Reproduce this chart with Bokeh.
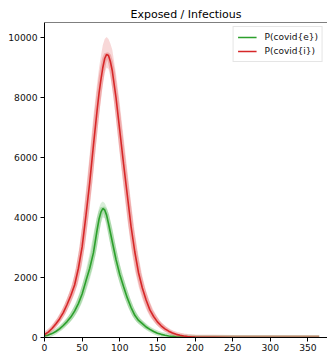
from bokeh.plotting import figure
from bokeh.models import Range1d, Span, Legend, LegendItem, FixedTicker, ColumnDataSource
from bokeh.embed import file_html
from bokeh.resources import INLINE

days = [0, 5, 10, 15, 20, 25, 30, 35, 40, 45, 50, 55, 60, 65, 70,
        72.5, 75, 77.5, 80, 82.5, 85, 87.5, 90,
        95, 100, 105, 110, 115, 120, 125, 130, 135, 140, 145, 150, 155, 160, 165, 170, 175,
        180, 185, 190, 195, 200, 250, 300, 365]

infectious = [100, 180, 300, 450, 620, 830, 1100, 1400, 1750, 2300, 3020, 4050, 5150, 6400, 7600,
              8150, 8600, 9000, 9300, 9440, 9400, 9200, 8900,
              8000, 6900, 5800, 4750, 3700, 2850, 2150, 1650, 1250, 920, 700, 520, 390, 290, 210,
              150, 105, 75, 50, 35, 22, 15, 0, 0, 0]
infectious_hi = [130, 230, 380, 560, 760, 1000, 1300, 1650, 2100, 2800, 3700, 4900, 6100, 7400, 8500,
                 9000, 9400, 9750, 9950, 10020, 9950, 9800, 9600,
                 8800, 7800, 6700, 5600, 4500, 3500, 2700, 2050, 1550, 1180, 900, 680, 510, 380, 280,
                 200, 145, 100, 70, 50, 32, 22, 1, 0, 0]
infectious_lo = [80, 140, 230, 350, 500, 680, 900, 1150, 1450, 1850, 2450, 3300, 4300, 5500, 6800,
                 7400, 7900, 8400, 8800, 9000, 8950, 8700, 8300,
                 7300, 6100, 5000, 3950, 3000, 2250, 1700, 1280, 950, 700, 530, 390, 290, 210, 150,
                 105, 75, 52, 35, 24, 15, 10, 0, 0, 0]

exposed = [50, 80, 130, 200, 290, 400, 530, 680, 880, 1130, 1450, 1880, 2300, 2820, 3600,
           3950, 4180, 4300, 4250, 4080, 3800, 3500, 3200,
           2600, 2100, 1700, 1320, 1000, 740, 570, 460, 350, 270, 200, 145, 105, 75, 52, 36, 25,
           17, 11, 7, 5, 3, 0, 0, 0]
exposed_hi = [65, 100, 165, 250, 360, 490, 650, 840, 1080, 1380, 1750, 2250, 2800, 3450, 4050,
              4330, 4480, 4530, 4480, 4350, 4150, 3900, 3650,
              3000, 2450, 2000, 1580, 1220, 920, 710, 560, 430, 330, 250, 185, 135, 98, 70, 48, 34,
              23, 15, 10, 7, 4, 0, 0, 0]
exposed_lo = [40, 62, 100, 155, 225, 315, 420, 540, 700, 900, 1170, 1530, 1920, 2380, 3050,
              3450, 3800, 4000, 3980, 3800, 3450, 3100, 2800,
              2250, 1780, 1420, 1090, 800, 590, 450, 360, 275, 210, 155, 110, 80, 56, 39, 27, 18,
              12, 8, 5, 3, 2, 0, 0, 0]

x_ticks = [0, 50, 100, 150, 200, 250, 300, 350]
y_ticks = [0, 2000, 4000, 6000, 8000, 10000]
labels = ["P(covid{e})", "P(covid{i})"]
title = "Exposed / Infectious"

GREEN = "#2ca02c"
RED = "#d62728"
FONT = "DejaVu Sans"

src = ColumnDataSource(dict(t=days, i=infectious, ihi=infectious_hi, ilo=infectious_lo,
                            e=exposed, ehi=exposed_hi, elo=exposed_lo))

p = figure(frame_width=283, frame_height=315, output_backend="svg", toolbar_location=None,
           x_range=Range1d(0, 376), y_range=Range1d(0, 10500),
           min_border_left=44, min_border_right=0, min_border_top=22, min_border_bottom=17,
           title=title)
p.title.align = "center"
p.title.text_font = FONT
p.title.text_font_size = "11px"
p.title.text_font_style = "normal"
p.title.text_color = "#000000"
p.title.standoff = 4

p.xgrid.visible = False
p.ygrid.visible = False
p.outline_line_color = None
p.background_fill_color = "white"
p.border_fill_color = "white"

for ax in (p.xaxis[0], p.yaxis[0]):
    ax.axis_line_color = "#000000"
    ax.axis_line_width = 1
    ax.major_tick_line_color = "#000000"
    ax.major_tick_out = 4
    ax.major_tick_in = 0
    ax.minor_tick_line_color = None
    ax.major_label_text_font = FONT
    ax.major_label_text_font_size = "9.2px"
    ax.major_label_text_color = "#111111"
p.xaxis.major_label_standoff = 2
p.yaxis.major_label_standoff = 3
p.xaxis.ticker = FixedTicker(ticks=x_ticks)
p.yaxis.ticker = FixedTicker(ticks=y_ticks)

top = Span(location=p.y_range.end, dimension="width", line_color="#000000", line_width=1)
p.add_layout(top)

# exposed
p.varea(x="t", y1="elo", y2="ehi", source=src, fill_color=GREEN, fill_alpha=0.18)
p.line(x="t", y="e", source=src, line_color=GREEN, line_width=5, line_alpha=0.25)
g_line = p.line(x="t", y="e", source=src, line_color=GREEN, line_width=1.6)
# infectious
p.varea(x="t", y1="ilo", y2="ihi", source=src, fill_color=RED, fill_alpha=0.18)
p.line(x="t", y="i", source=src, line_color=RED, line_width=5, line_alpha=0.25)
r_line = p.line(x="t", y="i", source=src, line_color=RED, line_width=1.6)

legend = Legend(items=[LegendItem(label=labels[0], renderers=[g_line]),
                       LegendItem(label=labels[1], renderers=[r_line])],
                location="top_right")
legend.label_text_font = FONT
legend.label_text_font_size = "9px"
legend.label_text_color = "#111111"
legend.glyph_width = 19
legend.glyph_height = 12
legend.label_height = 12
legend.label_standoff = 8
legend.spacing = 2
legend.padding = 4
legend.margin = 4
legend.border_line_color = "#cccccc"
legend.background_fill_alpha = 0.9
p.add_layout(legend)

open("out.html", "w").write(file_html(p, INLINE))
